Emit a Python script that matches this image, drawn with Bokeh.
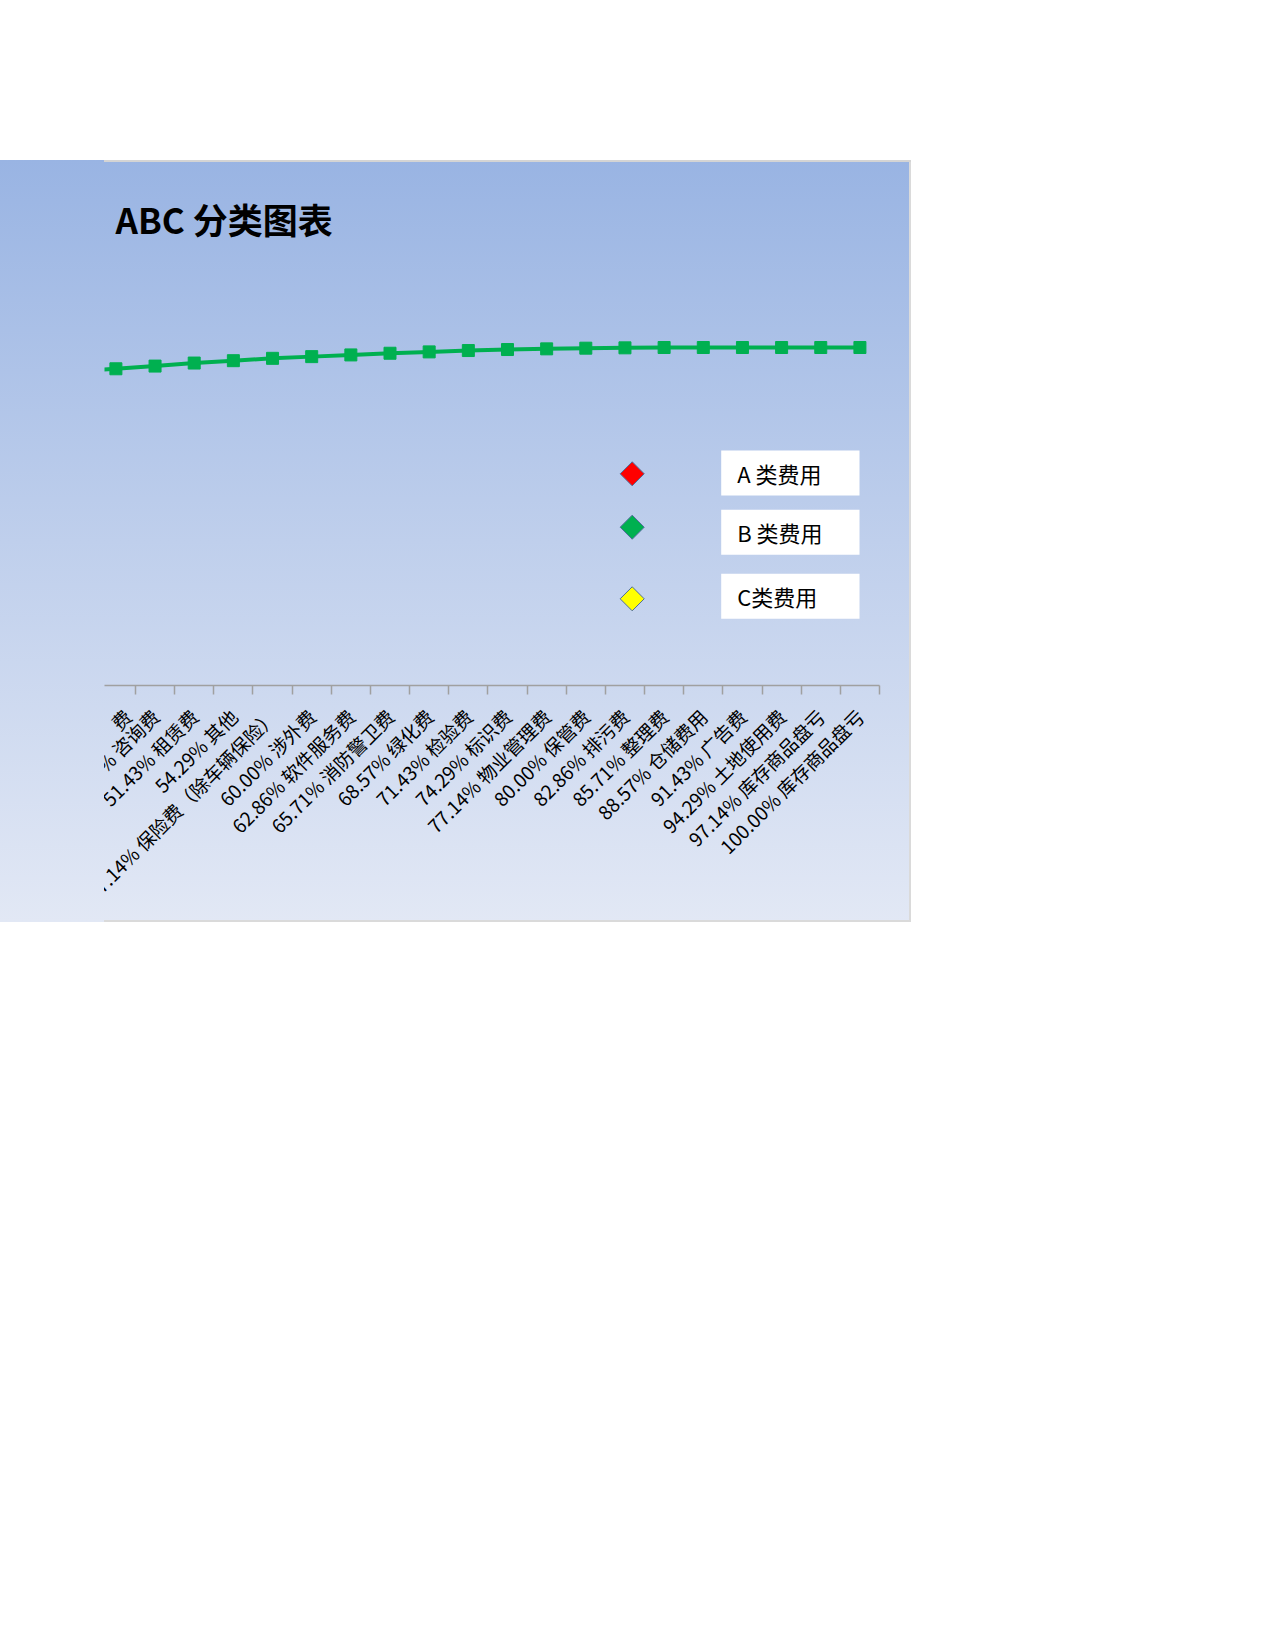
import math
from bokeh.plotting import figure
from bokeh.models import Range1d, FixedTicker, BoxAnnotation, Label, Div, Spacer
from bokeh.layouts import column, row
from bokeh.embed import file_html
from bokeh.resources import INLINE

# ---------------- data ----------------
categories = [
    "42.86% 审计费",
    "45.71% 诉讼费",
    "48.57% 咨询费",
    "51.43% 租赁费",
    "54.29% 其他",
    "57.14% 保险费（除车辆保险）",
    "60.00% 涉外费",
    "62.86% 软件服务费",
    "65.71% 消防警卫费",
    "68.57% 绿化费",
    "71.43% 检验费",
    "74.29% 标识费",
    "77.14% 物业管理费",
    "80.00% 保管费",
    "82.86% 排污费",
    "85.71% 整理费",
    "88.57% 仓储费用",
    "91.43% 广告费",
    "94.29% 土地使用费",
    "97.14% 库存商品盘亏",
    "100.00% 库存商品盘亏",
]
cumulative_pct = [92.9, 93.7, 94.5, 95.4, 96.1, 96.8, 97.3, 97.8, 98.3, 98.7,
                  99.1, 99.4, 99.6, 99.8, 99.9, 100.0, 100.0, 100.0, 100.0, 100.0, 100.0]
legend_labels = ["A 类费用", "B 类费用", "C类费用"]
legend_colors = ["#ff0000", "#00b050", "#ffff00"]

# ---------------- layout constants ----------------
FIG_W, FIG_H = 807, 762
FRAME_W = 775
BORDER_BOTTOM = 237
X_START, X_END = 0.709, 20.5
FRAME_H = FIG_H - BORDER_BOTTOM
PX_PER_Y = 3.38
Y_END = FRAME_H / PX_PER_Y
PX_PER_X = FRAME_W / (X_END - X_START)

# page px -> data (figure origin at page (104,160), y=0 at page 685)
def dx(px):
    return X_START + (px - 104) / PX_PER_X

def dy(py):
    return (160 + FRAME_H - py) / PX_PER_Y

xs = list(range(len(categories)))
visible = [i for i in xs if X_START <= i <= X_END]

# tick label text as seen: the leftmost label is cut by the chart's left edge
tick_text = {i: categories[i] for i in visible}
tick_text[visible[0]] = categories[visible[0]][-1]

GRAD = "linear-gradient(to bottom, #99b4e3 0%, #bfcfec 50%, #e2e8f5 100%)"

p = figure(width=FIG_W, height=FIG_H,
           x_range=Range1d(X_START, X_END), y_range=Range1d(0, Y_END),
           output_backend="svg", toolbar_location=None,
           y_axis_location=None, x_axis_location="below",
           min_border_left=0, min_border_right=FIG_W - FRAME_W,
           min_border_top=0, min_border_bottom=BORDER_BOTTOM,
           background_fill_color=None, border_fill_color=None,
           outline_line_color=None, margin=0)
p.styles = {
    "background-image": GRAD,
    "box-shadow": "inset 0 2px 0 #d4d4d4, inset -2px 0 0 #dadada, inset 0 -2px 0 #dadada",
}
p.xgrid.visible = False
p.ygrid.visible = False

ax = p.xaxis[0]
ax.ticker = FixedTicker(ticks=visible, minor_ticks=[i + 0.5 for i in xs])
ax.major_label_overrides = tick_text
ax.major_label_orientation = math.pi / 4
ax.major_label_text_font = "Noto Sans CJK SC"
ax.major_label_text_font_size = "19px"
ax.major_label_text_color = "#000000"
ax.major_label_standoff = 18
ax.major_tick_out = 0
ax.major_tick_in = 0
ax.minor_tick_out = 9
ax.minor_tick_in = 0
ax.minor_tick_line_color = "#a0a0a0"
ax.minor_tick_line_width = 1.5
ax.axis_line_color = "#a0a0a0"
ax.axis_line_width = 1.5

# cumulative line
p.line(xs, cumulative_pct, line_color="#00b050", line_width=4)
p.scatter(xs, cumulative_pct, marker="square", size=12,
          fill_color="#00b050", line_color="#00b050")

# title
p.add_layout(Label(x=dx(115), y=dy(218), text="ABC 分类图表",
                   text_font="Noto Sans CJK SC", text_font_size="35px",
                   text_font_style="bold", text_color="#000000",
                   text_baseline="middle"))

# custom legend
diamond_py = [473.3, 526.7, 598.3]
box_tops = [450, 509.3, 573.3]
box_h = 45
p.scatter([dx(631.7)] * 3, [dy(v) for v in diamond_py], marker="square",
          angle=math.pi / 4, size=17, fill_color=legend_colors,
          line_color="#4f6d9a", line_width=1)
for top, lab in zip(box_tops, legend_labels):
    p.add_layout(BoxAnnotation(left=dx(720.7), right=dx(859),
                               top=dy(top), bottom=dy(top + box_h),
                               fill_color="white", fill_alpha=1.0,
                               line_color=None))
    p.add_layout(Label(x=dx(736.7), y=dy(top + box_h / 2), text=lab,
                       text_font="Noto Sans CJK SC", text_font_size="22px",
                       text_color="#000000", text_baseline="middle"))

left = Div(text="", width=104, height=FIG_H, margin=0,
           styles={"background-image": GRAD})

layout = column(Spacer(height=160, margin=0), row(left, p, margin=0), margin=0)

open("out.html", "w").write(file_html(layout, INLINE))
